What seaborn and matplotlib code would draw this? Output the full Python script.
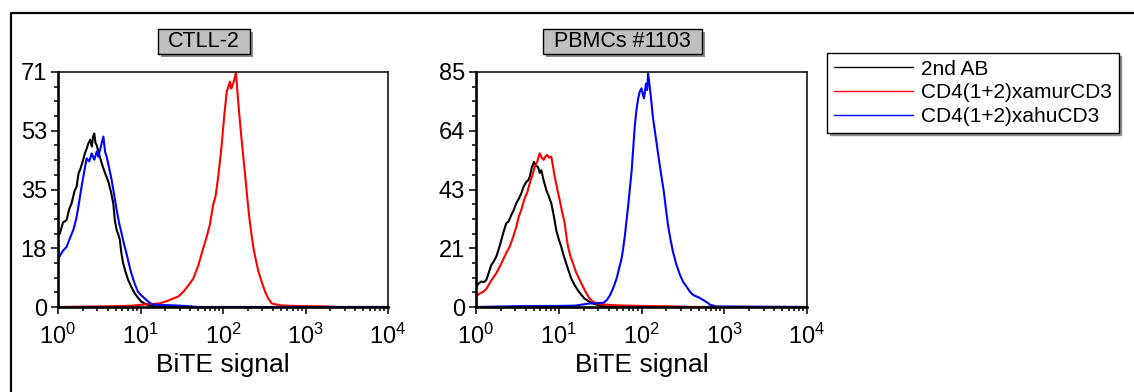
import numpy as np
import pandas as pd
import seaborn as sns
import matplotlib.pyplot as plt
from matplotlib.lines import Line2D
from matplotlib.patches import Rectangle
from matplotlib.ticker import LogLocator, NullFormatter

# ---- data (log10 of signal, cell count) ----
samples = ['2nd AB', 'CD4(1+2)xamurCD3', 'CD4(1+2)xahuCD3']
colors = ['#000000', '#ff0000', '#0000ff']
panel_titles = ['CTLL-2', 'PBMCs #1103']
y_max = [71, 85]
ytick_labels = [['0', '18', '35', '53', '71'], ['0', '21', '43', '64', '85']]
xtick_values = [1, 10, 100, 1000, 10000]

ctll_black_log = [0.0, 0.024, 0.06, 0.105, 0.135, 0.166, 0.2, 0.226, 0.25, 0.267, 0.3, 0.327,
                  0.35, 0.368, 0.39, 0.41, 0.425, 0.44, 0.455, 0.469, 0.5, 0.53, 0.57, 0.61,
                  0.64, 0.67, 0.69, 0.711, 0.73, 0.75, 0.77, 0.79, 0.82, 0.85, 0.89, 0.93,
                  0.97, 1.01, 1.07, 1.14, 1.3, 4.0]
ctll_black = [21.5, 22.3, 25.5, 26.3, 29.5, 31.4, 35.0, 36.4, 40.5, 41.4, 44.0, 46.5,
              48.0, 49.4, 50.5, 48.5, 51.5, 52.4, 49.5, 48.9, 46.0, 43.4, 40.5, 37.9,
              35.0, 31.3, 26.0, 23.3, 22.0, 20.2, 16.0, 13.2, 10.5, 8.2, 6.0, 4.1,
              2.8, 1.6, 0.8, 0.3, 0.0, 0.0]

ctll_blue_log = [0.0, 0.024, 0.06, 0.105, 0.14, 0.186, 0.22, 0.247, 0.28, 0.307, 0.347, 0.38,
                 0.408, 0.44, 0.47, 0.489, 0.52, 0.55, 0.57, 0.59, 0.62, 0.65, 0.68, 0.711,
                 0.74, 0.77, 0.80, 0.83, 0.86, 0.89, 0.93, 0.97, 1.01, 1.05, 1.1, 1.14,
                 1.25, 1.4, 1.55, 1.7, 4.0]
ctll_blue = [14.5, 15.5, 17.0, 18.2, 20.5, 23.3, 26.5, 30.3, 35.5, 39.4, 44.9, 44.0,
             46.4, 44.5, 47.0, 45.4, 48.5, 51.5, 47.0, 45.4, 42.0, 38.4, 34.0, 29.3,
             25.5, 22.3, 19.0, 16.2, 13.0, 10.1, 7.0, 4.6, 3.5, 2.6, 1.5, 0.8,
             0.6, 0.5, 0.3, 0.0, 0.0]

ctll_red_log = [0.0, 0.6, 0.9, 1.05, 1.15, 1.236, 1.32, 1.40, 1.46, 1.52, 1.58, 1.64, 1.70,
                1.76, 1.80, 1.84, 1.88, 1.91, 1.94, 1.98, 2.016, 2.045, 2.065, 2.085, 2.10,
                2.117, 2.14, 2.157, 2.178, 2.198, 2.22, 2.24, 2.26, 2.28, 2.30, 2.32, 2.345,
                2.37, 2.40, 2.43, 2.47, 2.51, 2.55, 2.59, 2.69, 2.9, 3.2, 3.4, 4.0]
ctll_red = [0.0, 0.2, 0.4, 0.8, 0.9, 1.1, 1.8, 2.6, 3.2, 4.6, 6.5, 8.6, 12.5,
            17.7, 21.0, 24.8, 30.8, 33.5, 38.9, 47.9, 58.0, 65.0, 66.5, 68.1, 66.0,
            67.0, 69.0, 70.9, 64.0, 58.0, 52.0, 46.9, 42.0, 36.9, 31.5, 26.8, 22.0,
            17.7, 14.0, 10.7, 7.5, 4.6, 2.5, 1.1, 0.5, 0.3, 0.2, 0.0, 0.0]

pbmc_black_log = [0.0, 0.03, 0.064, 0.095, 0.125, 0.155, 0.185, 0.215, 0.245, 0.275, 0.306,
                  0.336, 0.366, 0.395, 0.427, 0.455, 0.487, 0.515, 0.547, 0.575, 0.608, 0.63,
                  0.649, 0.675, 0.70, 0.725, 0.749, 0.77, 0.789, 0.82, 0.85, 0.88, 0.91,
                  0.94, 0.97, 1.0, 1.03, 1.06, 1.09, 1.12, 1.15, 1.19, 1.23, 1.27, 1.31,
                  1.39, 1.5, 1.6, 4.0]
pbmc_black = [7.0, 8.5, 9.2, 9.0, 9.8, 12.5, 15.2, 16.5, 18.2, 21.0, 24.2,
              27.5, 30.3, 31.0, 33.3, 35.0, 37.5, 39.0, 41.1, 43.5, 45.3, 45.8,
              47.1, 50.5, 52.5, 51.0, 50.7, 48.5, 49.5, 45.5, 42.3, 40.0, 37.5,
              33.0, 27.8, 24.5, 21.8, 18.5, 15.8, 13.0, 10.4, 8.0, 6.1, 4.5, 3.1,
              1.5, 0.5, 0.0, 0.0]

pbmc_red_log = [0.0, 0.04, 0.085, 0.125, 0.165, 0.205, 0.245, 0.285, 0.326, 0.365, 0.407,
                0.445, 0.487, 0.515, 0.547, 0.565, 0.588, 0.62, 0.649, 0.68, 0.709, 0.74,
                0.77, 0.795, 0.818, 0.84, 0.858, 0.885, 0.91, 0.93, 0.951, 0.98, 1.011,
                1.04, 1.072, 1.09, 1.112, 1.14, 1.172, 1.21, 1.253, 1.29, 1.333, 1.37,
                1.414, 1.495, 1.7, 2.0, 2.4, 2.6, 4.0]
pbmc_red = [4.0, 4.8, 5.5, 6.5, 8.6, 10.5, 12.2, 14.5, 17.0, 19.5, 21.8,
            25.0, 29.0, 32.5, 35.1, 37.0, 39.3, 41.5, 44.7, 47.5, 50.7, 52.5,
            55.6, 54.0, 53.2, 54.5, 55.0, 54.0, 54.4, 51.0, 47.1, 43.0, 38.7,
            34.5, 30.3, 26.0, 21.8, 18.5, 15.8, 12.5, 9.8, 7.5, 5.0, 3.2,
            1.9, 1.0, 0.6, 0.4, 0.2, 0.0, 0.0]

pbmc_blue_log = [0.0, 0.5, 1.0, 1.2, 1.378, 1.46, 1.54, 1.58, 1.62, 1.66, 1.70, 1.73, 1.76,
                 1.78, 1.80, 1.82, 1.84, 1.86, 1.88, 1.90, 1.92, 1.94, 1.96, 1.98, 2.0,
                 2.015, 2.03, 2.054, 2.068, 2.08, 2.098, 2.115, 2.13, 2.14, 2.16, 2.18,
                 2.20, 2.22, 2.245, 2.27, 2.295, 2.32, 2.35, 2.38, 2.42, 2.465, 2.505,
                 2.546, 2.586, 2.626, 2.69, 2.747, 2.8, 2.83, 2.9, 4.0]
pbmc_blue = [0.0, 0.3, 0.4, 0.5, 1.3, 1.4, 1.5, 2.5, 4.3, 7.0, 10.4, 14.0, 17.6,
             21.5, 26.0, 31.5, 36.9, 43.0, 48.9, 57.5, 65.8, 71.5, 75.5, 78.0, 79.1,
             77.0, 75.5, 80.8, 78.5, 84.5, 80.0, 75.5, 71.0, 68.2, 64.0, 59.8,
             55.5, 51.4, 46.5, 41.7, 35.5, 29.7, 24.5, 20.0, 15.5, 11.6, 9.0,
             7.3, 5.5, 4.3, 3.5, 2.5, 1.5, 0.8, 0.2, 0.0]

panels = [
    [(ctll_black_log, ctll_black), (ctll_red_log, ctll_red), (ctll_blue_log, ctll_blue)],
    [(pbmc_black_log, pbmc_black), (pbmc_red_log, pbmc_red), (pbmc_blue_log, pbmc_blue)],
]

sns.set_style('white')
plt.rcParams['font.family'] = ['Liberation Sans', 'DejaVu Sans']
plt.rcParams['text.color'] = 'black'
plt.rcParams['axes.labelcolor'] = 'black'
plt.rcParams['xtick.color'] = 'black'
plt.rcParams['ytick.color'] = 'black'

W, H = 1134, 392
fig = plt.figure(figsize=(W / 100, H / 100), dpi=100)


def px(x, y):
    return x / W, 1 - y / H


# axes boxes in pixels: left, top, right, bottom
ax_px = [(58, 72, 388, 307), (476, 72, 807, 307)]
title_px = [(158, 29, 250, 54), (543, 29, 702, 54)]

for i, parts in enumerate(panels):
    l, t, r, b = ax_px[i]
    ax = fig.add_axes([l / W, 1 - b / H, (r - l) / W, (b - t) / H])
    frames = []
    for name, (lg, cnt) in zip(samples, parts):
        frames.append(pd.DataFrame({'signal': np.power(10.0, lg), 'count': cnt, 'sample': name}))
    df = pd.concat(frames, ignore_index=True)
    sns.lineplot(data=df, x='signal', y='count', hue='sample', hue_order=samples,
                 palette=colors, estimator=None, lw=1.5, ax=ax, legend=False)
    ax.set_xscale('log')
    ax.set_xlim(1, 1e4)
    ax.set_xticks(xtick_values)
    ax.xaxis.set_minor_locator(LogLocator(base=10, subs=np.arange(2, 10), numticks=20))
    ax.xaxis.set_minor_formatter(NullFormatter())
    ax.set_ylim(0, y_max[i])
    ax.set_yticks(np.linspace(0, y_max[i], 5))
    ax.set_yticklabels(ytick_labels[i])
    ax.set_yticks(np.linspace(0, y_max[i], 17), minor=True)
    ax.set_xlabel('BiTE signal', fontsize=19, labelpad=3)
    ax.set_ylabel('')
    ax.tick_params(axis='both', which='both', direction='out', color='black',
                   bottom=True, left=True, top=False, right=False)
    ax.tick_params(axis='both', which='major', length=5, width=1.1, labelsize=17, pad=3)
    ax.tick_params(axis='x', which='major', pad=7)
    ax.tick_params(axis='both', which='minor', length=2.8, width=1.1)
    for side in ['left', 'bottom']:
        ax.spines[side].set_linewidth(1.9)
        ax.spines[side].set_color('black')
    for side in ['top', 'right']:
        ax.spines[side].set_linewidth(1.1)
        ax.spines[side].set_color('black')

    # grey title box with shadow
    x0, y0, x1, y1 = title_px[i]
    fig.patches.append(Rectangle(px(x0 + 3, y1 + 3), (x1 - x0) / W, (y1 - y0) / H,
                                 transform=fig.transFigure, facecolor='#8c8c8c',
                                 edgecolor='none', zorder=1))
    fig.patches.append(Rectangle(px(x0, y1), (x1 - x0) / W, (y1 - y0) / H,
                                 transform=fig.transFigure, facecolor='#c0c0c0',
                                 edgecolor='black', lw=1, zorder=2))
    cx, cy = px((x0 + x1) / 2, (y0 + y1) / 2)
    fig.text(cx, cy, panel_titles[i], ha='center', va='center', fontsize=15.5, zorder=3)

# outer frame (left and top edges)
fig.add_artist(Line2D([11 / W, 11 / W, 1], [0, 1 - 13 / H, 1 - 13 / H],
                      transform=fig.transFigure, color='black', lw=1.6))

handles = [Line2D([], [], color=c, lw=1) for c in colors]
leg = fig.legend(handles, samples, loc='upper left', bbox_to_anchor=px(827, 53),
                 borderaxespad=0, frameon=True, fancybox=False, edgecolor='black',
                 fontsize=15, handlelength=3.8, handletextpad=0.4, labelspacing=0.22,
                 borderpad=0.32, shadow={'color': '#909090', 'alpha': 1})
leg.get_frame().set_linewidth(1)

fig.savefig('out.png', dpi=100)
